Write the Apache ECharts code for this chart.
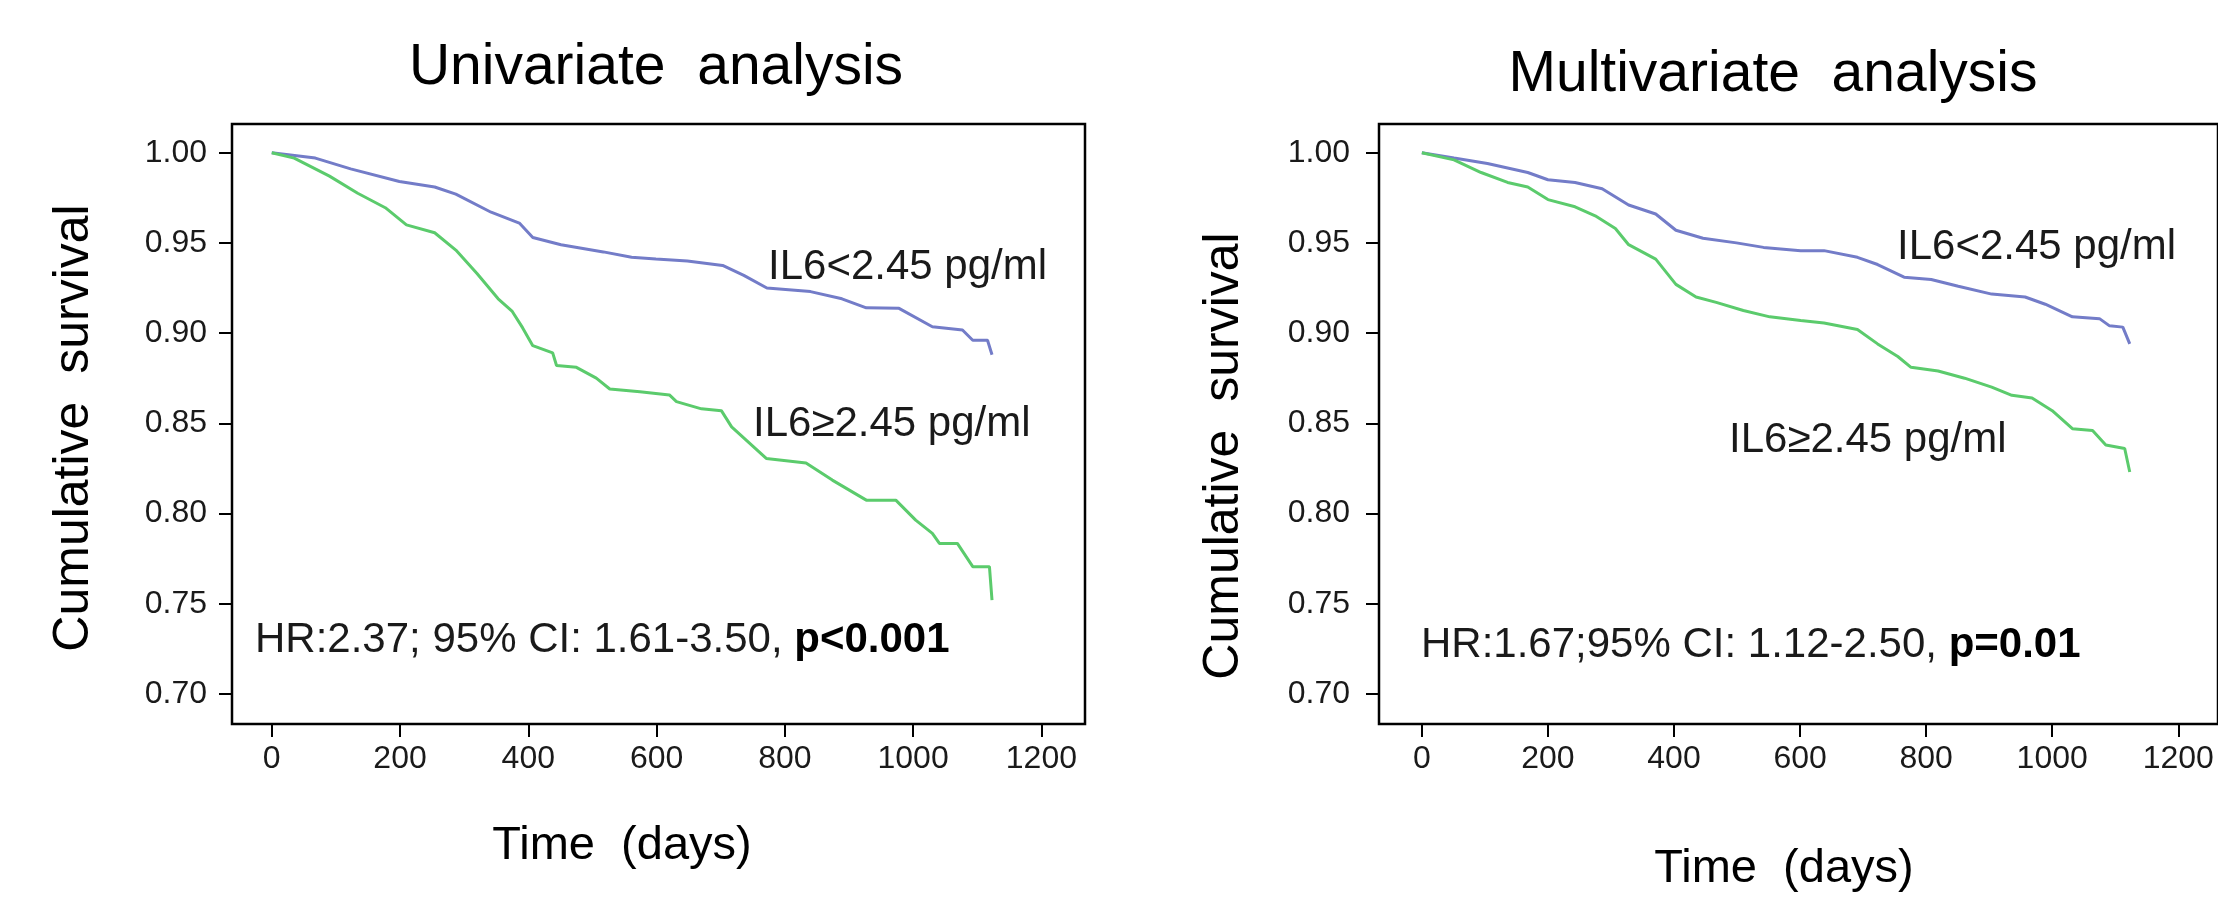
<!DOCTYPE html>
<html>
<head>
<meta charset="utf-8">
<script src="https://cdn.jsdelivr.net/npm/echarts@6/dist/echarts.min.js"></script>
<style>
  html, body { margin: 0; padding: 0; background: #fff; }
  #chart { width: 2218px; height: 897px; }
</style>
</head>
<body>
<div id="chart"></div>
<script>
// Kaplan-Meier curves, [day, cumulative survival]
const uniLow = [
  [0, 1.000], [68, 0.997], [123, 0.991], [199, 0.984], [254, 0.981], [287, 0.977],
  [342, 0.967], [386, 0.961], [407, 0.953], [451, 0.949], [517, 0.945], [561, 0.942],
  [599, 0.941], [648, 0.940], [703, 0.9375], [736, 0.932], [772, 0.925], [840, 0.923],
  [889, 0.919], [927, 0.914], [978, 0.9137], [1030, 0.9035], [1077, 0.9017],
  [1093, 0.896], [1116, 0.896], [1123, 0.888]
];
const uniHigh = [
  [0, 1.000], [35, 0.997], [90, 0.987], [134, 0.9775], [177, 0.9695], [210, 0.960],
  [254, 0.9556], [287, 0.946], [320, 0.933], [353, 0.919], [375, 0.912], [391, 0.903],
  [407, 0.893], [438, 0.889], [444, 0.882], [475, 0.881], [506, 0.875], [527, 0.869],
  [574, 0.8675], [620, 0.8657], [631, 0.862], [670, 0.858], [701, 0.857], [717, 0.848],
  [771, 0.8305], [833, 0.828], [874, 0.8185], [927, 0.8074], [973, 0.8074],
  [1004, 0.7963], [1030, 0.789], [1041, 0.7834], [1069, 0.7834], [1093, 0.7705],
  [1119, 0.7705], [1123, 0.752]
];
const multiLow = [
  [0, 1.000], [51, 0.997], [104, 0.994], [168, 0.989], [200, 0.985], [243, 0.9835],
  [286, 0.980], [328, 0.971], [371, 0.966], [403, 0.957], [446, 0.9526], [499, 0.950],
  [542, 0.9475], [601, 0.9457], [638, 0.9457], [691, 0.942], [723, 0.938], [765, 0.931],
  [808, 0.9297], [851, 0.926], [904, 0.9216], [957, 0.920], [989, 0.916], [1032, 0.909],
  [1075, 0.908], [1091, 0.904], [1112, 0.9033], [1123, 0.894]
];
const multiHigh = [
  [0, 1.000], [51, 0.996], [94, 0.989], [136, 0.9835], [168, 0.981], [200, 0.974],
  [243, 0.970], [275, 0.965], [307, 0.958], [328, 0.949], [371, 0.941], [403, 0.927],
  [435, 0.920], [467, 0.917], [510, 0.9125], [552, 0.909], [601, 0.907], [638, 0.9056],
  [691, 0.902], [723, 0.894], [755, 0.887], [776, 0.881], [819, 0.879], [861, 0.875],
  [904, 0.870], [936, 0.8655], [968, 0.864], [1000, 0.857], [1032, 0.847], [1064, 0.846],
  [1085, 0.838], [1115, 0.836], [1123, 0.823]
];

const xTicks = [0, 200, 400, 600, 800, 1000, 1200];
const yTicks = [0.70, 0.75, 0.80, 0.85, 0.90, 0.95, 1.00];

const titles = ['Univariate  analysis', 'Multivariate  analysis'];
const groupLabels = ['IL6<2.45 pg/ml', 'IL6\u22652.45 pg/ml'];
const hrText = [
  'HR:2.37; 95% CI: 1.61-3.50, {b|p<0.001}',
  'HR:1.67;95% CI: 1.12-2.50, {b|p=0.01}'
];

const FONT = '"Liberation Sans", Arial, sans-serif';
const BLUE = '#737cc8';
const GREEN = '#5bcb6c';

const chart = echarts.init(document.getElementById('chart'));

function xAxisFor(idx, min, max) {
  return {
    gridIndex: idx, type: 'value', min: min, max: max,
    axisLine: { show: false, onZero: false },
    splitLine: { show: false },
    axisTick: { show: true, length: 13, customValues: xTicks, lineStyle: { color: '#000', width: 2 } },
    axisLabel: {
      customValues: xTicks, fontSize: 32, fontFamily: FONT, color: '#1a1a1a', margin: 19,
      formatter: v => String(v)
    }
  };
}
function yAxisFor(idx, margin) {
  return {
    gridIndex: idx, type: 'value', min: 0.6833, max: 1.0159,
    axisLine: { show: false, onZero: false },
    splitLine: { show: false },
    axisTick: { show: true, length: 13, customValues: yTicks, lineStyle: { color: '#000', width: 2 } },
    axisLabel: {
      customValues: yTicks, fontSize: 32, fontFamily: FONT, color: '#1a1a1a', margin: margin,
      formatter: v => v.toFixed(2)
    }
  };
}
function curve(idx, data, color) {
  return {
    type: 'line', xAxisIndex: idx, yAxisIndex: idx, data: data,
    showSymbol: false, symbol: 'none', animation: false,
    lineStyle: { color: color, width: 3 }
  };
}
function txt(x, y, text, size, extra) {
  return Object.assign({
    type: 'text', x: x, y: y,
    style: {
      text: text, fontSize: size, fontFamily: FONT, fill: '#1a1a1a',
      textAlign: 'left', textVerticalAlign: 'middle', align: 'left', verticalAlign: 'middle',
      rich: { b: { fontSize: size, fontFamily: FONT, fontWeight: 'bold', fill: '#000' } }
    }
  }, extra || {});
}
function centered(x, y, text, size, rot) {
  const t = txt(x, y, text, size, rot ? { rotation: rot } : null);
  t.style.textAlign = 'center';
  t.style.align = 'center';
  t.style.fill = '#000';
  return t;
}

const option = {
  backgroundColor: '#fff',
  animation: false,
  grid: [
    { left: 232, top: 124, width: 853, height: 600, show: true, borderColor: '#000', borderWidth: 2.5 },
    { left: 1379, top: 124, width: 853, height: 600, show: true, borderColor: '#000', borderWidth: 2.5 }
  ],
  xAxis: [xAxisFor(0, -62, 1268), xAxisFor(1, -68, 1263)],
  yAxis: [yAxisFor(0, 25), yAxisFor(1, 29)],
  series: [
    curve(0, uniLow, BLUE),
    curve(0, uniHigh, GREEN),
    curve(1, multiLow, BLUE),
    curve(1, multiHigh, GREEN)
  ],
  graphic: [
    centered(656, 68, titles[0], 57),
    centered(1773, 75, titles[1], 57),
    centered(74, 428, 'Cumulative  survival', 50, Math.PI / 2),
    centered(1224, 456, 'Cumulative  survival', 50, Math.PI / 2),
    centered(622, 846, 'Time  (days)', 47),
    centered(1784, 869, 'Time  (days)', 47),
    txt(768, 267, groupLabels[0], 42),
    txt(753, 424, groupLabels[1], 42),
    txt(1897, 247, groupLabels[0], 42),
    txt(1729, 440, groupLabels[1], 42),
    txt(255, 640, hrText[0], 42),
    txt(1421, 645, hrText[1], 42)
  ]
};
chart.setOption(option);
</script>
</body>
</html>
